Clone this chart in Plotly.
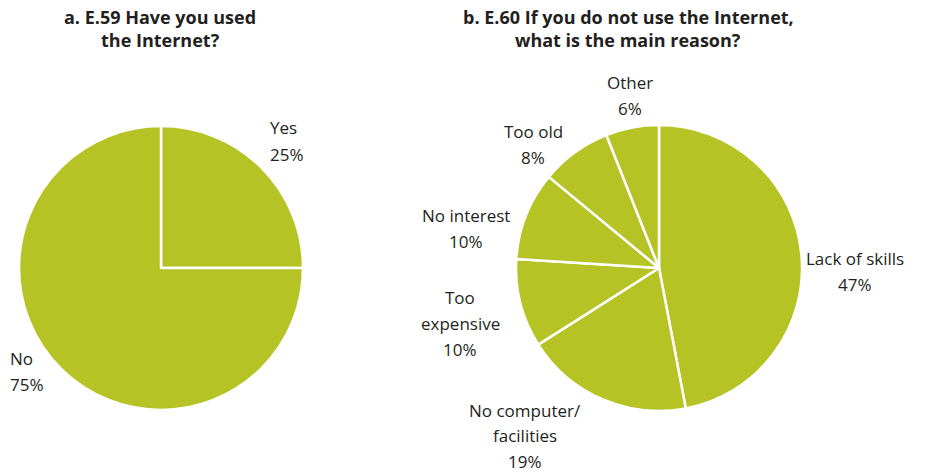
import plotly.graph_objects as go

# Data
q59_labels = ["Yes", "No"]
q59_values = [25, 75]
q60_labels = ["Lack of skills", "No computer/ facilities", "Too expensive", "No interest", "Too old", "Other"]
q60_values = [47, 19, 10, 10, 8, 6]

W, H = 928, 472
GREEN = "#b5c424"
TXT = "#231f20"
FONT = "Open Sans"

def px(x):
    return x / W

def py(y):
    return 1 - y / H

fig = go.Figure()
fig.add_trace(go.Pie(
    labels=q59_labels, values=q59_values, sort=False, direction="clockwise", rotation=0,
    marker=dict(colors=[GREEN] * len(q59_values), line=dict(color="white", width=2.5)),
    textinfo="none", hoverinfo="label+percent",
    domain=dict(x=[px(19), px(303)], y=[py(410), py(126)]),
    showlegend=False,
))
fig.add_trace(go.Pie(
    labels=q60_labels, values=q60_values, sort=False, direction="clockwise", rotation=0,
    marker=dict(colors=[GREEN] * len(q60_values), line=dict(color="white", width=2.5)),
    textinfo="none", hoverinfo="label+percent",
    domain=dict(x=[px(516), px(802)], y=[py(411), py(125)]),
    showlegend=False,
))

annotations = []

def add_lines(lines, x, y0, anchor="center", size=17, bold=False, spacing=26):
    for i, line in enumerate(lines):
        t = f"<b>{line}</b>" if bold else line
        annotations.append(dict(
            text=t, x=px(x), y=py(y0 + i * spacing), xref="paper", yref="paper",
            xanchor=anchor, yanchor="middle", showarrow=False,
            font=dict(family=FONT, size=size, color=TXT),
        ))

# Titles
add_lines(["a. E.59 Have you used", "the Internet?"], 160, 17, size=18, bold=True, spacing=23)
add_lines(["b. E.60 If you do not use the Internet,", "what is the main reason?"], 628, 17, size=18, bold=True, spacing=23)

# Left pie labels
add_lines([q59_labels[0], f"{q59_values[0]}%"], 268, 128, anchor="left")
add_lines([q59_labels[1], f"{q59_values[1]}%"], 8, 358, anchor="left")

# Right pie labels
add_lines([q60_labels[0], f"{q60_values[0]}%"], 855, 258)
add_lines(["No computer/", "facilities", f"{q60_values[1]}%"], 525, 410, spacing=25.5)
add_lines(["Too", "expensive", f"{q60_values[2]}%"], 460, 297)
add_lines([q60_labels[3], f"{q60_values[3]}%"], 466, 215)
add_lines([q60_labels[4], f"{q60_values[4]}%"], 533, 131)
add_lines([q60_labels[5], f"{q60_values[5]}%"], 630, 83)

fig.update_layout(
    width=W, height=H,
    margin=dict(l=0, r=0, t=0, b=0),
    paper_bgcolor="white", plot_bgcolor="white",
    annotations=annotations,
    font=dict(family=FONT, color=TXT),
)

fig.write_html("out.html")
